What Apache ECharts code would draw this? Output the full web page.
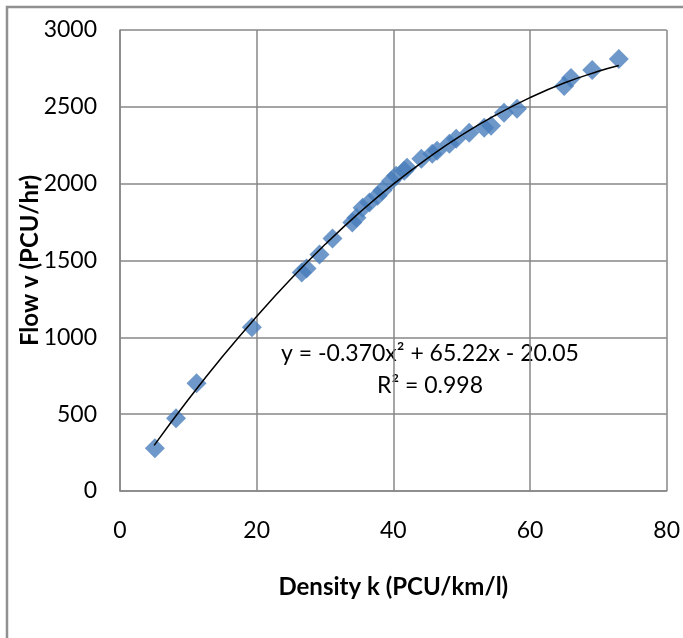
<!DOCTYPE html>
<html>
<head>
<meta charset="utf-8">
<title>Flow - Density</title>
<style>
html, body { margin: 0; padding: 0; background: #fff; }
#main { width: 683px; height: 638px; }
</style>
</head>
<body>
<div id="main"></div>
<script src="https://cdn.jsdelivr.net/npm/echarts@6/dist/echarts.min.js"></script>
<script>
// observed points (density k, flow v)
var densityK = [5.1, 8.2, 11.2, 19.3, 26.6, 27.3, 29.2, 31.1, 34.0, 34.6, 35.5, 36.5, 37.7, 38.4,
	39.7, 40.4, 41.6, 42.0, 44.1, 45.7, 46.4, 48.2, 49.2, 51.1, 53.3, 54.3, 56.2, 58.1, 65.0, 66.0, 69.1, 73.0];
var flowV = [279, 474, 701, 1065, 1422, 1448, 1539, 1643, 1747, 1779, 1844, 1877, 1922, 1955,
	2019, 2052, 2084, 2104, 2162, 2195, 2214, 2260, 2292, 2331, 2364, 2377, 2461, 2487, 2636, 2688, 2740, 2812];
// trendline
var trendX = [5, 10, 15, 20, 25, 30, 35, 40, 45, 50, 55, 60, 65, 70, 73];
var trendY = [297, 595, 875, 1136, 1380, 1604, 1810, 1997, 2165, 2316, 2447, 2560, 2655, 2731, 2769];
var xTicks = [0, 20, 40, 60, 80];
var yTicks = [0, 500, 1000, 1500, 2000, 2500, 3000];
var eqText = 'y = -0.370x\u00B2 + 65.22x - 20.05\nR\u00B2 = 0.998';

var pts = densityK.map(function(k, i) { return [k, flowV[i]]; });
var trend = trendX.map(function(k, i) { return [k, trendY[i]]; });

var chart = echarts.init(document.getElementById('main'));
var gridLine = { lineStyle: { color: '#878787', width: 1.5 } };
chart.setOption({
	animation: false,
	textStyle: { fontFamily: 'Lato' },
	grid: { left: 120, right: 15, top: 30, bottom: 147 },
	xAxis: {
		type: 'value', min: xTicks[0], max: xTicks[xTicks.length - 1], interval: 20,
		name: 'Density k (PCU/km/l)', nameLocation: 'middle', nameGap: 84,
		nameTextStyle: { fontSize: 24, fontWeight: 'bold', color: '#000' },
		axisLine: { show: true, lineStyle: { color: '#878787', width: 1.5 } },
		axisTick: { show: false },
		axisLabel: { fontSize: 23, color: '#000', margin: 28 },
		splitLine: gridLine
	},
	yAxis: {
		type: 'value', min: yTicks[0], max: yTicks[yTicks.length - 1], interval: 500,
		name: 'Flow v (PCU/hr)', nameLocation: 'middle', nameGap: 78, nameMoveOverlap: false,
		nameTextStyle: { fontSize: 24, fontWeight: 'bold', color: '#000' },
		axisLine: { show: true, lineStyle: { color: '#878787', width: 1.5 } },
		axisTick: { show: false },
		axisLabel: { fontSize: 23, color: '#000', margin: 23, formatter: function(v) { return String(v); } },
		splitLine: gridLine
	},
	graphic: [{
		type: 'rect', silent: true,
		shape: { x: 7, y: 7, width: 720, height: 700 },
		style: { fill: 'none', stroke: '#909090', lineWidth: 2.5 }
	}, {
		type: 'text', x: 430, y: 338, silent: true,
		style: { text: eqText, fontSize: 23, fontFamily: 'Lato', fill: '#000', align: 'center', lineHeight: 32 }
	}],
	series: [{
		type: 'scatter',
		data: pts,
		symbol: 'diamond',
		symbolSize: 20,
		itemStyle: { color: '#4a7ebb' },
		z: 2
	}, {
		type: 'line',
		data: trend,
		smooth: true,
		showSymbol: false,
		lineStyle: { color: '#000', width: 1.5 },
		z: 3
	}]
});
</script>
</body>
</html>
